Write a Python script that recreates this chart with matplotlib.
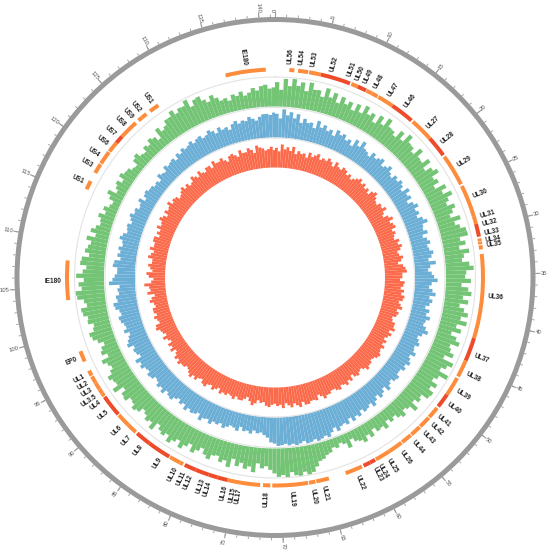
import numpy as np
import matplotlib
matplotlib.use("Agg")
import matplotlib.pyplot as plt

# ---------------- data ----------------
genome_kb = 141.4
bin_kb = 0.5

gene_names = ["UL56", "UL54", "UL53", "UL52", "UL51", "UL50", "UL49", "UL48", "UL47", "UL46",
              "UL27", "UL28", "UL29", "UL30", "UL31", "UL32", "UL33", "UL34", "UL35", "UL36",
              "UL37", "UL38", "UL39", "UL40", "UL41", "UL42", "UL43", "UL44", "UL26", "UL25",
              "UL24", "UL23", "UL22", "UL21", "UL20", "UL19", "UL18", "UL17", "UL15", "UL16",
              "UL14", "UL13", "UL12", "UL11", "UL10", "UL9", "UL8", "UL7", "UL6", "UL5",
              "UL4", "UL3.5", "UL3", "UL2", "UL1", "EP0", "IE180", "US1", "US3", "US4",
              "US6", "US7", "US8", "US9", "US2", "US1", "IE180"]
gene_start = [1.55, 2.5, 3.7, 5.0, 8.45, 9.2, 10.25, 10.9, 11.7, 13.5,
              16.3, 18.9, 21.4, 25.1, 28.6, 29.5, 31.1, 31.45, 31.85, 32.8,
              42.0, 44.6, 46.7, 48.8, 50.6, 52.0, 53.4, 54.7, 56.0, 57.6,
              59.4, 60.0, 61.0, 64.8, 66.3, 67.1, 71.2, 72.3, 74.5, 75.9,
              77.0, 78.0, 79.5, 81.0, 81.4, 82.7, 85.3, 87.2, 88.3, 89.9,
              92.4, 92.8, 93.3, 94.1, 95.0, 96.7, 103.6, 115.9, 117.9, 119.1,
              120.7, 121.9, 122.8, 125.3, 125.8, 126.9, 136.0]
gene_end = [2.1, 3.6, 5.0, 8.3, 9.2, 10.2, 10.9, 11.6, 13.5, 16.1,
            18.9, 21.2, 24.9, 28.6, 29.5, 30.9, 31.4, 31.75, 32.3, 42.0,
            44.6, 46.5, 48.8, 50.4, 51.9, 53.3, 54.6, 55.9, 57.6, 59.3,
            60.0, 60.8, 62.9, 66.2, 67.0, 71.0, 72.0, 74.5, 75.9, 77.0,
            78.0, 79.5, 80.8, 81.4, 82.6, 85.3, 87.0, 88.3, 89.8, 92.3,
            92.8, 93.3, 94.1, 94.9, 95.6, 97.9, 107.9, 116.9, 119.0, 120.6,
            121.9, 122.8, 124.9, 125.8, 126.4, 128.0, 140.4]
gene_type = ["O", "O", "O", "R", "O", "R", "O", "O", "O", "R",
             "O", "R", "O", "O", "O", "R", "O", "O", "O", "O",
             "R", "O", "O", "R", "O", "O", "O", "O", "O", "O",
             "R", "R", "O", "O", "O", "O", "O", "O", "O", "R",
             "R", "R", "R", "O", "O", "R", "R", "O", "O", "R",
             "O", "O", "O", "O", "O", "O", "O", "O", "O", "O",
             "O", "R", "O", "O", "O", "O", "O"]
label_kb = [1.6, 2.8, 4.0, 6.1, 8.0, 8.9, 9.8, 11.0, 12.7, 14.7,
            17.9, 20.1, 23.0, 26.6, 28.8, 29.7, 30.7, 31.4, 32.0, 37.4,
            43.8, 45.8, 47.9, 49.6, 51.2, 52.3, 53.5, 55.0, 56.6, 58.2,
            59.3, 59.9, 61.9, 65.6, 66.8, 69.0, 71.6, 74.4, 75.0, 75.9,
            77.6, 78.4, 79.7, 80.5, 81.5, 83.4, 85.8, 87.3, 88.7, 90.8,
            92.1, 92.9, 93.7, 94.5, 95.3, 97.3, 105.7, 116.4, 118.4, 119.7,
            121.1, 122.4, 123.8, 124.9, 126.0, 127.5, 138.2]

# windowed values, 0.5 kb bins (percent of track height)
green = [84, 58, 96, 72, 98, 76, 90, 62, 94, 72, 74, 54, 88, 60, 80, 50, 76, 56, 70, 46,
         74, 50, 82, 58, 70, 44, 78, 54, 86, 62, 60, 48, 78, 54, 88, 66, 64, 50, 80, 56,
         54, 78, 46, 68, 82, 54, 64, 42, 78, 58, 86, 66, 54, 78, 64, 50, 82, 58, 72, 90,
         92, 62, 78, 54, 86, 66, 58, 82, 96, 70, 66, 86, 54, 78, 90, 62, 82, 54, 72, 88,
         66, 90, 58, 78, 48, 70, 86, 58, 66, 82, 54, 94, 78, 62, 98, 70, 58, 82, 66, 86,
         82, 58, 66, 50, 78, 54, 46, 64, 54, 40, 50, 36, 58, 44, 48, 32, 54, 40, 58, 46,
         40, 26, 52, 32, 24, 36, 30, 44, 48, 58, 62, 78, 94, 100, 88, 100, 96, 84, 100, 92,
         98, 86, 74, 62, 70, 54, 86, 68, 78, 60, 74, 52, 84, 64, 74, 56, 60, 78, 68, 50,
         64, 78, 54, 68, 84, 62, 74, 88, 66, 78, 70, 56, 86, 66, 74, 60, 52, 70, 78, 64,
         60, 78, 74, 56, 90, 68, 72, 82, 64, 52, 60, 74, 46, 64, 56, 42, 60, 74, 80, 62,
         56, 74, 70, 84, 88, 66, 74, 96, 100, 78, 88, 70, 96, 74, 62, 84, 80, 56, 72, 64,
         56, 74, 46, 66, 52, 40, 44, 56, 36, 48, 32, 26, 44, 58, 30, 40, 48, 32, 52, 42,
         40, 28, 24, 44, 52, 36, 32, 48, 40, 56, 48, 32, 66, 48, 56, 72, 72, 88, 70, 82,
         80, 96, 66, 84, 88, 70, 58, 76, 62, 48, 52, 40, 58, 50, 62, 46, 54, 68, 58, 72,
         76, 62, 66]
blue = [82, 66, 98, 78, 90, 70, 86, 58, 74, 62, 66, 50, 78, 58, 70, 54, 62, 46, 70, 58,
        66, 50, 58, 42, 70, 54, 78, 58, 54, 46, 66, 54, 62, 70, 50, 58, 70, 54, 46, 62,
        54, 66, 58, 46, 70, 54, 62, 42, 58, 70, 54, 62, 50, 66, 78, 58, 54, 66, 46, 58,
        66, 54, 58, 70, 62, 50, 74, 54, 46, 58, 66, 78, 58, 50, 62, 74, 54, 66, 58, 46,
        62, 54, 70, 58, 54, 66, 78, 62, 50, 58, 66, 54, 58, 70, 54, 62, 70, 58, 66, 54,
        54, 66, 62, 50, 58, 70, 50, 62, 70, 54, 66, 78, 62, 70, 74, 62, 78, 70, 82, 66,
        82, 74, 78, 90, 74, 86, 98, 90, 96, 100, 92, 98, 100, 90, 96, 100, 94, 98, 92, 96,
        98, 90, 86, 70, 62, 54, 58, 50, 62, 54, 58, 46, 62, 54, 50, 58, 66, 54, 62, 58,
        70, 58, 62, 74, 54, 62, 66, 58, 70, 54, 62, 50, 58, 70, 66, 58, 74, 62, 70, 58,
        54, 66, 70, 58, 62, 74, 66, 78, 54, 62, 66, 58, 78, 70, 62, 54, 70, 58, 62, 70,
        74, 62, 66, 78, 82, 66, 70, 58, 62, 54, 90, 78, 70, 62, 62, 78, 74, 54, 66, 58,
        66, 54, 58, 70, 62, 50, 54, 58, 46, 54, 62, 50, 54, 42, 46, 58, 38, 50, 54, 46,
        46, 38, 42, 34, 54, 46, 42, 58, 50, 54, 58, 46, 62, 54, 66, 58, 62, 70, 58, 66,
        70, 58, 62, 74, 66, 54, 70, 58, 62, 50, 66, 74, 62, 70, 66, 78, 70, 62, 74, 82,
        82, 78, 86]
red = [68, 56, 80, 64, 72, 60, 76, 52, 64, 56, 60, 48, 68, 56, 64, 72, 56, 64, 60, 72,
       64, 52, 72, 60, 56, 68, 64, 52, 60, 48, 56, 64, 72, 60, 68, 56, 64, 52, 68, 76,
       64, 56, 52, 64, 60, 72, 56, 48, 64, 76, 60, 68, 72, 56, 64, 56, 52, 68, 60, 72,
       64, 52, 56, 68, 60, 48, 64, 72, 76, 60, 60, 52, 68, 64, 56, 68, 60, 72, 68, 56,
       64, 72, 56, 64, 60, 48, 52, 64, 64, 72, 56, 68, 60, 52, 64, 56, 68, 60, 64, 72,
       68, 60, 56, 64, 64, 72, 60, 52, 56, 64, 60, 48, 64, 56, 68, 60, 56, 68, 64, 56,
       56, 64, 64, 72, 60, 52, 68, 64, 64, 72, 72, 60, 76, 68, 60, 72, 64, 56, 72, 60,
       64, 56, 60, 68, 64, 52, 56, 48, 60, 68, 56, 44, 52, 60, 60, 52, 64, 56, 52, 60,
       56, 64, 48, 56, 64, 52, 56, 68, 64, 52, 56, 68, 60, 72, 64, 56, 52, 60, 60, 68,
       56, 64, 52, 44, 60, 48, 56, 40, 48, 60, 44, 52, 56, 68, 64, 48, 52, 60, 48, 56,
       56, 44, 48, 60, 52, 40, 64, 52, 56, 72, 48, 40, 56, 64, 44, 52, 60, 48, 48, 64,
       56, 48, 64, 52, 52, 60, 60, 44, 56, 48, 64, 52, 56, 68, 60, 48, 64, 56, 60, 72,
       56, 64, 60, 48, 52, 60, 68, 56, 64, 52, 56, 72, 64, 56, 72, 60, 56, 68, 68, 56,
       76, 64, 64, 72, 60, 52, 68, 72, 64, 56, 76, 64, 64, 76, 68, 56, 80, 72, 68, 60,
       64, 72, 60]

tick_major = list(range(0, 141, 5))
tick_minor = list(range(0, 142, 1))

# ---------------- styles ----------------
C_RING = "#9a9a9a"
C_GREEN = "#74C476"
C_BLUE = "#6BAED6"
C_RED = "#FB6A4A"
C_GENE = {"O": "#FD8D3C", "R": "#EE4B2B"}
C_GRID = "#e3e3e3"

plt.rcParams['font.family'] = ['Liberation Sans', 'DejaVu Sans']

fig = plt.figure(figsize=(5.5, 5.55), dpi=100)
ax = fig.add_axes([0, 0, 1, 1], projection='polar')
ax.set_theta_zero_location('N')
ax.set_theta_direction(-1)
ax.set_ylim(0, 275)
ax.set_axis_off()


def th(kb):
    return np.asarray(kb, dtype=float) / genome_kb * 2 * np.pi


full = np.linspace(0, 2 * np.pi, 721)

# outer ring with ticks
ax.bar(0, 5.0, width=2 * np.pi, bottom=255.5, align='edge', color=C_RING, linewidth=0)
ax.vlines(th(tick_minor), 260.5, 263.0, color=C_RING, linewidth=0.6)
ax.vlines(th(tick_major), 260.5, 265.5, color=C_RING, linewidth=0.8)


def radial_text(kb, r, s, **kw):
    deg = float(kb) / genome_kb * 360.0
    if deg <= 180:
        rot, ha = 90 - deg, 'left'
    else:
        rot, ha = 270 - deg, 'right'
    ax.text(th(kb), r, s, rotation=rot, rotation_mode='anchor', ha=ha, va='center',
            clip_on=False, **kw)


for k in tick_major:
    radial_text(k, 265.5, str(k), fontsize=4.2, color="#555555")

# track outlines
for rr in (200.5, 170.0, 139.5):
    ax.plot(full, np.full_like(full, rr), color=C_GRID, linewidth=0.8)

# data tracks
starts = np.arange(len(green)) * bin_kb
widths = np.minimum(starts + bin_kb, genome_kb) - starts
for vals, base, col in ((green, 171.0, C_GREEN), (blue, 140.0, C_BLUE), (red, 110.0, C_RED)):
    ax.bar(th(starts), np.asarray(vals) / 100.0 * 29.0, width=th(widths), bottom=base,
           align='edge', color=col, linewidth=0)

# genes
for s, e, t in zip(gene_start, gene_end, gene_type):
    ax.bar(th(s), 4.0, width=th(e - s), bottom=206.0, align='edge',
           color=C_GENE[t], linewidth=0)

for name, lk in zip(gene_names, label_kb):
    radial_text(lk, 214, name, fontsize=4.7, fontweight='bold', color="#222222")

fig.savefig("out.png", dpi=100)
